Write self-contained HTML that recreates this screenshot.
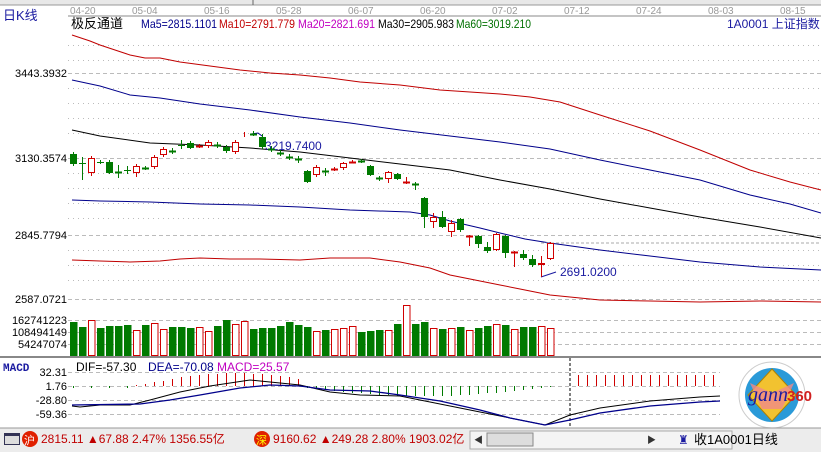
<!DOCTYPE html>
<html><head><meta charset="utf-8"><style>
body{margin:0;background:#fff;width:821px;height:452px;overflow:hidden;font-family:"Liberation Sans","Noto Sans CJK SC",sans-serif}
svg{position:absolute;left:0;top:0}
</style></head><body>
<svg id="s" width="821" height="452" xmlns="http://www.w3.org/2000/svg" font-family="Liberation Sans, Noto Sans CJK SC, sans-serif">
<rect x="0" y="0" width="821" height="5" fill="#e8e8e8"/>
<line x1="0" y1="5" x2="821" y2="5" stroke="#999"/>
<line x1="253" y1="0" x2="253" y2="5" stroke="#666"/>
<line x1="68" y1="16" x2="821" y2="16" stroke="#888"/>
<g font-size="10" fill="#999">
<text x="70" y="14">04-20</text><text x="132" y="14">05-04</text><text x="204" y="14">05-16</text><text x="276" y="14">05-28</text><text x="348" y="14">06-07</text><text x="420" y="14">06-20</text><text x="492" y="14">07-02</text><text x="564" y="14">07-12</text><text x="636" y="14">07-24</text><text x="708" y="14">08-03</text><text x="780" y="14">08-15</text>
</g>
<text x="3" y="20" font-size="13" fill="#1a1aa0">日K线</text>
<text x="71" y="28" font-size="13" fill="#000">极反通道</text>
<text x="141" y="28" font-size="12" fill="#00008b" textLength="76" lengthAdjust="spacingAndGlyphs">Ma5=2815.1101</text>
<text x="219" y="28" font-size="12" fill="#c00000" textLength="76" lengthAdjust="spacingAndGlyphs">Ma10=2791.779</text>
<text x="298" y="28" font-size="12" fill="#c000c0" textLength="77" lengthAdjust="spacingAndGlyphs">Ma20=2821.691</text>
<text x="378" y="28" font-size="12" fill="#000" textLength="76" lengthAdjust="spacingAndGlyphs">Ma30=2905.983</text>
<text x="456" y="28" font-size="12" fill="#007000" textLength="75" lengthAdjust="spacingAndGlyphs">Ma60=3019.210</text>
<text x="727" y="28" font-size="12" fill="#1a1aa0">1A0001  上证指数</text>
<g id="grid" stroke="#bbb" stroke-dasharray="2,4"></g>
<g font-size="11" fill="#000" text-anchor="end">
<text x="67" y="77">3443.3932</text><text x="67" y="162">3130.3574</text><text x="67" y="239">2845.7794</text><text x="67" y="303">2587.0721</text>
<text x="67" y="324">162741223</text><text x="67" y="336">108494149</text><text x="67" y="348">54247074</text>
<text x="67" y="376">32.31</text><text x="67" y="390">1.76</text><text x="67" y="404">-28.80</text><text x="67" y="418">-59.36</text>
</g>
<g fill="none" stroke-width="1">
<polyline stroke="#c00000" points="72,35 90,41 100,45 115,50 130,55 145,58 160,58 180,62 210,66 240,70 270,73 300,75 330,78 360,82 400,85 440,90 470,92 500,94 530,97 560,102 600,115 650,131 700,150 750,170 790,182 821,190"/>
<polyline stroke="#00008b" points="72,80 100,86 130,95 160,98 200,104 250,110 300,117 350,123 400,130 450,136 500,142 550,149 600,160 650,170 700,180 750,195 790,204 821,213"/>
<polyline stroke="#000" points="72,130 100,136 150,143 200,145 250,148 300,152 350,158 400,164 450,170 500,180 550,189 600,199 650,208 700,217 760,227 821,238"/>
<polyline stroke="#00008b" points="72,200 100,201 150,202 200,204 250,205 300,207 350,210 410,212 430,215 450,221 480,228 500,233 525,239 550,243 600,250 650,256 700,262 760,267 821,270"/>
<polyline stroke="#c00000" points="72,260 100,261 130,262 160,261 180,259 200,258 230,259 260,259 300,260 330,258 370,258 400,262 430,268 450,275 480,281 500,285 520,289 550,295 580,298 600,300 650,301 700,302 760,301 821,302"/>
<polyline stroke="#00008b" points="251,134 258,133 262,136"/>
<polyline stroke="#1a1aa0" points="541,277 556,272"/>
</g>
<line x1="541" y1="243" x2="821" y2="243" stroke="#aaa" stroke-dasharray="3,2"/>
<text x="265" y="150" font-size="12" fill="#1a1aa0">3219.7400</text>
<text x="560" y="276" font-size="12" fill="#1a1aa0">2691.0200</text>
<g id="c"></g>
<line x1="0" y1="357" x2="821" y2="357" stroke="#888" stroke-width="2"/>
<text x="3" y="371" font-size="11" fill="#1a1aa0" font-family="Liberation Mono, monospace" font-weight="bold">MACD</text>
<text x="76" y="371" font-size="12" fill="#000">DIF=-57.30</text>
<text x="148" y="371" font-size="12" fill="#00008b">DEA=-70.08</text>
<text x="217" y="371" font-size="12" fill="#c000c0">MACD=25.57</text>
<g id="m"></g>
<line x1="570" y1="358" x2="570" y2="427" stroke="#000" stroke-dasharray="3,2"/>
<g fill="none">
<polyline stroke="#000" points="72,406 80,407 100,405 130,405 150,400 180,392 210,386 250,380 270,382 300,385 330,392 360,395 400,396 430,402 450,406 480,412 510,418 545,425 570,415 600,408 650,401 700,397 720,396"/>
<polyline stroke="#00008b" stroke-width="1.3" points="72,405 140,404 170,400 200,395 240,388 270,385 300,386 330,390 370,391 400,395 440,401 480,410 510,418 545,425 570,420 600,413 650,406 700,402 720,401"/>
</g>
<g transform="translate(772,395)">
<circle r="33" fill="none" stroke="#ccc"/>
<circle r="27" fill="#2a9ad8"/>
<polygon points="0,-26 24,0 0,26 -24,0" fill="#f2c230" stroke="#b08000"/>
<polygon points="-22,-12 0,-2 22,-12 10,14 -10,14" fill="#f08a8a" opacity=".8"/>
<text x="-24" y="6" font-size="20" font-style="italic" fill="#1a1aa0" font-family="Liberation Serif,serif">gann</text>
<text x="15" y="6" font-size="15" font-weight="bold" fill="#d02020">360</text>
</g>
<rect x="0" y="428" width="821" height="24" fill="#ececec"/>
<line x1="0" y1="428" x2="821" y2="428" stroke="#999"/>
<rect x="4" y="433" width="16" height="12" fill="#335" /><rect x="5" y="436" width="14" height="8" fill="#ddd"/>
<circle cx="30" cy="439" r="8" fill="#e02000"/><text x="24" y="444" font-size="11" fill="#fff">沪</text>
<text x="41" y="443" font-size="12" fill="#c00000">2815.11 ▲67.88 2.47% 1356.55亿</text>
<circle cx="262" cy="439" r="8" fill="#e02000"/><text x="256" y="444" font-size="11" fill="#ff0">深</text>
<text x="273" y="443" font-size="12" fill="#c00000">9160.62 ▲249.28 2.80% 1903.02亿</text>
<rect x="470" y="431" width="262" height="18" fill="#f4f4f4" stroke="#aaa"/>
<rect x="487" y="433" width="46" height="13" fill="#ddd" stroke="#888"/>
<text x="474" y="443" font-size="9" fill="#333">◀</text><text x="647" y="443" font-size="9" fill="#333">▶</text>
<text x="678" y="444" font-size="12" fill="#1a1aa0">♜</text>
<text x="694" y="444" font-size="13" fill="#000">收1A0001日线</text>
</svg>
<script>
var NS="http://www.w3.org/2000/svg";
function el(p,t,a){var e=document.createElementNS(NS,t);for(var k in a)e.setAttribute(k,a[k]);p.appendChild(e);return e;}
var g=document.getElementById('grid');
[45,60,73,88,103,118,133,158,173,188,203,218,235,250,265,280,299].forEach(function(y){el(g,'line',{x1:68,y1:y+.5,x2:821,y2:y+.5,'stroke-dasharray':y==73||y==158||y==235||y==299?'4,3':'1,4'});});
[320,332,344].forEach(function(y){el(g,'line',{x1:68,y1:y+.5,x2:821,y2:y+.5,'stroke-dasharray':'4,3'});});
[372,386,400,414].forEach(function(y){el(g,'line',{x1:68,y1:y+.5,x2:720,y2:y+.5,'stroke-dasharray':'4,3'});});
var C=[[154,164,152,166],[163,164,157,180],[173,158,156,176],[162,163,160,164],[162,173,160,174],[172,172,165,178],[170,171,166,174],[173,166,164,177],[168,168,166,170],[167,157,155,169],[155,149,147,157],[151,151,148,154],[145,146,140,149],[143,148,141,149],[146,146,144,148],[146,142,140,148],[145,145,142,148],[147,151,145,153],[152,142,140,154],[135,134,132,137],[134,134,131,136],[137,147,134,149],[149,149,146,152],[153,153,150,156],[157,157,154,160],[159,159,156,163],[171,182,170,183],[175,167,165,177],[171,171,168,176],[169,169,167,171],[168,163,162,170],[162,162,160,163],[161,161,159,163],[166,175,165,176],[178,178,176,181],[179,172,171,183],[174,179,173,180],[182,182,177,184],[184,184,182,190],[198,217,197,228],[222,217,213,228],[217,227,211,228],[232,223,220,237],[219,230,218,232],[236,236,235,246],[236,244,235,248],[247,251,242,253],[250,234,233,251],[236,253,235,258],[252,252,251,267],[254,258,250,260],[259,265,255,267],[265,263,256,277],[259,243,242,260]];
var V=[322,327,320,328,326,326,325,330,325,323,329,327,327,328,327,331,326,320,324,321,329,328,328,326,322,325,327,331,330,329,328,326,332,331,330,330,324,305,324,322,328,329,328,327,330,328,326,324,325,329,327,327,326,328];
var cg=document.getElementById('c');
C.forEach(function(d,i){var x=70+i*9;var up=d[1]<d[0]||(d[0]==d[1]&&(i==1||i==3||i==12||i==14||i==19||i==29||i==31||i==37||i==44||i==49));var col=up?'#d00000':'#007a00';
el(cg,'line',{x1:x+3.5,y1:d[2],x2:x+3.5,y2:d[3],stroke:col});
var t=Math.min(d[0],d[1]),h=Math.abs(d[0]-d[1]);
if(h<1)el(cg,'rect',{x:x,y:t-0.5,width:7,height:2,fill:col});
else if(up)el(cg,'rect',{x:x+.5,y:t+.5,width:6,height:h-1,fill:'#fff',stroke:col});
else el(cg,'rect',{x:x,y:t,width:7,height:h,fill:col});
var v=V[i];if(up)el(cg,'rect',{x:x+.5,y:v+.5,width:6.5,height:355-v,fill:'#fff',stroke:'#d00000'});else el(cg,'rect',{x:x,y:v,width:7.5,height:356-v,fill:'#007a00'});
});
var m=document.getElementById('m');
for(var i=0;i<54;i++){var x=73.5+i*9;var h;
if(i<7)h=i%2?0:-2;else if(i<26){var k=(i-7);h=Math.max(1,Math.round(13*Math.sin(Math.PI*k/22)));}else{var k=i-26;h=-Math.round(10*Math.sin(Math.PI*(k+2)/30));}
if(h>0)el(m,'line',{x1:x,y1:386,x2:x,y2:386-h,stroke:'#d00000'});else if(h<0)el(m,'line',{x1:x,y1:386,x2:x,y2:386-h,stroke:'#007a00'});}
for(var x=578.5;x<722;x+=9)el(m,'line',{x1:x,y1:386,x2:x,y2:375,stroke:'#d00000'});
</script>
</body></html>
